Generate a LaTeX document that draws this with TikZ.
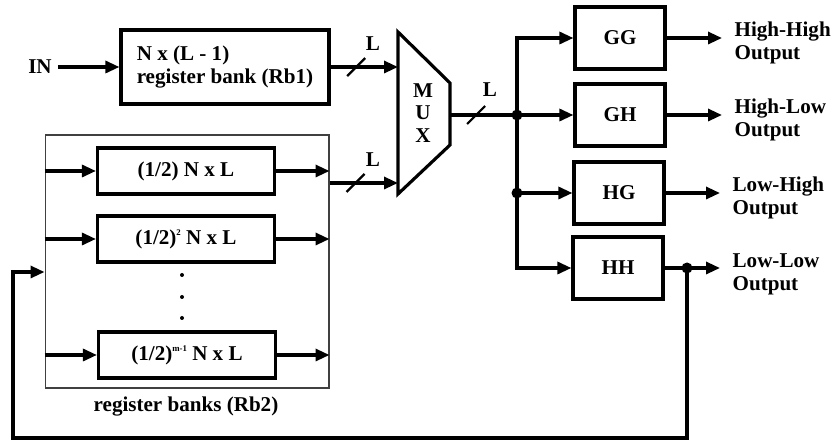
\documentclass[tikz,border=0pt]{standalone}
\usepackage{fontspec}
\setmainfont{Liberation Serif}
\usetikzlibrary{arrows.meta,positioning}
\tikzset{
  reg/.style={draw=black, line width=1.8pt, minimum width=4.16cm, minimum height=1.48cm, align=left, inner sep=0pt},
  sub/.style={draw=black, line width=1.8pt, minimum width=3.54cm, minimum height=0.92cm, inner sep=0pt},
  filt/.style={draw=black, line width=1.8pt, minimum width=1.8cm, minimum height=1.24cm, inner sep=0pt},
  frame/.style={draw=black!75, line width=0.6pt, minimum width=5.68cm, minimum height=5.06cm, inner sep=0pt},
  outlbl/.style={align=left, inner xsep=7pt, inner ysep=0pt, anchor=west},
  flow/.style={-{Triangle[length=0.28cm, width=0.24cm]}, line width=1.8pt},
  wire/.style={line width=1.8pt},
  slash/.style={line width=1.3pt},
  junct/.style={circle, fill=black, inner sep=0pt, minimum size=0.22cm},
  dotmark/.style={circle, fill=black, inner sep=0pt, minimum size=0.08cm}
}
\newcommand{\supsm}[1]{\raisebox{0.9ex}{\fontsize{5}{5}\selectfont #1}}

\begin{document}
\begin{tikzpicture}[x=0.02cm, y=-0.02cm, font=\fontsize{12}{13}\selectfont\bfseries]
  \useasboundingbox (0,0) rectangle (836,442);

  \node[frame] (rb2) at (187,261.5) {};
  \node[sub] (b1) at (186,171) {(1/2) N x L};
  \node[sub] (b2) at (186,239) {(1/2)\supsm{2} N x L};
  \node[sub] (b3) at (187,355) {(1/2)\supsm{m-1} N x L};
  \foreach \y/\n in {275/1,297/2,318/3}
    \node[dotmark] (dot\n) at (182,\y) {};
  \node (rb2lbl) at (186,407) {register banks (Rb2)};

  \foreach \b in {b1,b2,b3} {
    \draw[flow] (\b.west -| rb2.west) -- (\b);
    \draw[flow] (\b) -- (\b -| rb2.east);
  }

  \node (in) at (40,67) {IN};
  \node[reg] (rb1) at (225,67) {N x (L - 1)\\register bank (Rb1)};
  \draw[flow] (in) -- (rb1);

  \draw[wire] (398,32) -- (450,83) -- (450,145) -- (398,194) -- cycle;
  \node[align=center, inner sep=0pt] (mux) at (423,113) {M\\U\\X};
  \coordinate (m1) at (398,67);
  \coordinate (m2) at (398,183);
  \coordinate (mo) at (450,115);
  \coordinate (j1) at (517,115);
  \coordinate (j2) at (517,193);

  \draw[flow] (rb1) -- coordinate[pos=0.38] (s1) (m1);
  \draw[flow] (rb2.east |- m2) -- coordinate[pos=0.38] (s2) (m2);
  \draw[wire] (mo) -- coordinate[pos=0.39] (s3) (j1);
  \foreach \s in {s1,s2,s3}
    \draw[slash] (\s) +(-9,9) -- +(9,-9);
  \node (l1) at (373,44) {L};
  \node (l2) at (373,160) {L};
  \node (l3) at (490,90) {L};

  \node[filt] (gg) at (620,38) {GG};
  \node[filt] (gh) at (620,115) {GH};
  \node[filt] (hg) at (619,193) {HG};
  \node[filt] (hh) at (618,268) {HH};

  \draw[flow] (j1) |- (gg);
  \draw[flow] (j1) -- (gh);
  \draw[flow] (j1) -- (j2) -- (hg);
  \draw[flow] (j2) |- (hh);
  \node[junct] (d1) at (j1) {};
  \node[junct] (d2) at (j2) {};

  \node[outlbl] (ogg) at (722,43) {High-High\\Output};
  \node[outlbl] (ogh) at (722,120) {High-Low\\Output};
  \node[outlbl] (ohg) at (720,198) {Low-High\\Output};
  \node[outlbl] (ohh) at (720,274) {Low-Low\\Output};
  \draw[flow] (gg) -- (gg -| ogg.west);
  \draw[flow] (gh) -- (gh -| ogh.west);
  \draw[flow] (hg) -- (hg -| ohg.west);
  \draw[flow] (hh) -- (hh -| ohh.west);

  \coordinate (fb) at (687,268);
  \node[junct] (d3) at (fb) {};
  \draw[flow] (fb) -- (fb |- 0,438) -| (13,272) -- (rb2.west |- 0,272);
\end{tikzpicture}
\end{document}
